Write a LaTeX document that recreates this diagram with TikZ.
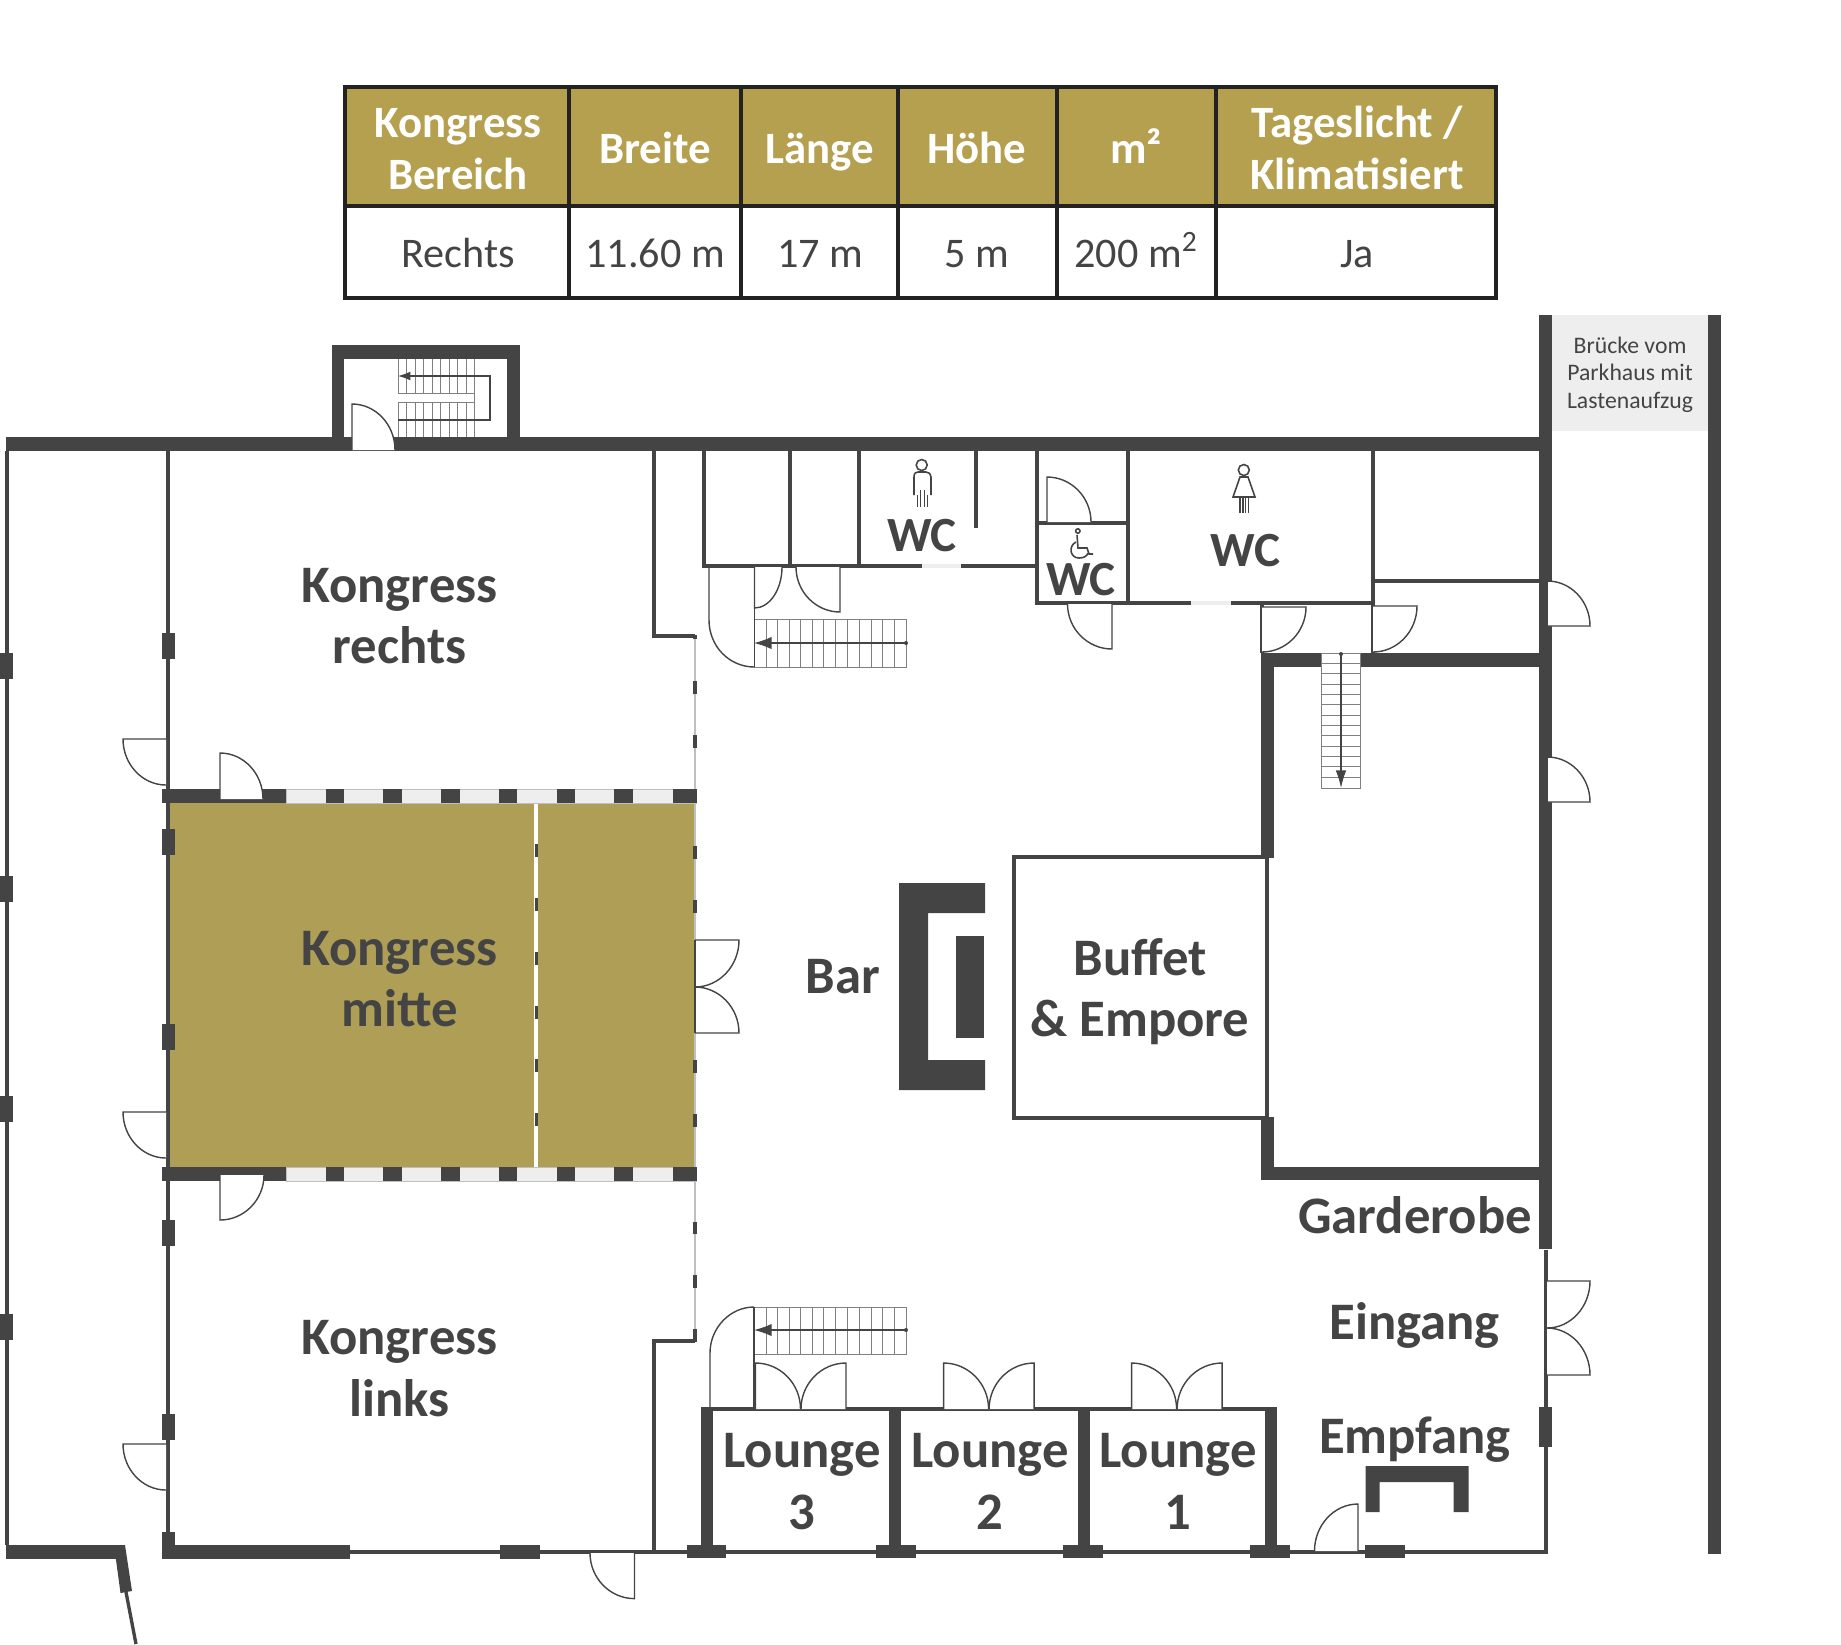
\documentclass[tikz,border=0pt]{standalone}
\usepackage{fontspec}
\setmainfont{Carlito}
\usetikzlibrary{arrows.meta}
\definecolor{wallColor}{HTML}{444444}
\definecolor{headColor}{HTML}{B5A04F}
\definecolor{roomColor}{HTML}{AE9E56}
\definecolor{sillColor}{HTML}{EEEEEE}
\definecolor{rimColor}{HTML}{222222}
\tikzset{
	wall/.style={fill=wallColor},
	thinwall/.style={draw=wallColor,line width=1.9pt},
	doorline/.style={draw=wallColor,line width=.8pt},
	stairline/.style={draw=gray,line width=.5pt},
	iconline/.style={draw=wallColor,line width=.9pt},
	roomlabel/.style={text=wallColor,font=\fontsize{30}{34.9}\selectfont\bfseries,align=center,anchor=base,inner sep=0pt},
	wclabel/.style={roomlabel,font=\fontsize{28}{34.9}\selectfont\bfseries},
	headlabel/.style={text=white,font=\fontsize{25.5}{29.5}\selectfont\bfseries,align=center,anchor=base,inner sep=0pt},
	celllabel/.style={text=wallColor,font=\fontsize{24}{30}\selectfont,anchor=base,inner sep=0pt},
	bridgelabel/.style={text=wallColor,font=\fontsize{13.5}{15.4}\selectfont,align=center,anchor=base,inner sep=0pt}
}
% hinge, tip of the leaf, end of the swing
\newcommand{\swingdoor}[6]{
	\fill[white] (#1,#2) -- (#3,#4) .. controls ({(#3)+.55*((#5)-(#1))},{(#4)+.55*((#6)-(#2))}) and ({(#5)+.55*((#3)-(#1))},{(#6)+.55*((#4)-(#2))}) .. (#5,#6) -- cycle;
	\draw[doorline] (#1,#2) -- (#3,#4) .. controls ({(#3)+.55*((#5)-(#1))},{(#4)+.55*((#6)-(#2))}) and ({(#5)+.55*((#3)-(#1))},{(#6)+.55*((#4)-(#2))}) .. (#5,#6);
}
\begin{document}
\begin{tikzpicture}[x=.02cm,y=-.02cm]
	\useasboundingbox (0,0) rectangle (1841,1644);
	% table
	\fill[headColor] (343,85) rectangle (1498,206);
	\draw[rimColor,line width=2.3pt] (345,87) rectangle (1496,298);
	\draw[rimColor,line width=2.3pt] (345,206) -- (1496,206);
	\foreach \tx in {569,741,898,1057,1216}
		\draw[rimColor,line width=1.8pt] (\tx,87) -- (\tx,298);
	\node[headlabel] (headarea) at (458,189.5) {Kongress\\Bereich};
	\node[headlabel] (headwidth) at (655,163.5) {Breite};
	\node[headlabel] (headlength) at (820,163.5) {Länge};
	\node[headlabel] (headheight) at (977,163.5) {Höhe};
	\node[headlabel] (headsize) at (1136,163.5) {m²};
	\node[headlabel] (headlight) at (1357,189.5) {Tageslicht /\\Klimatisiert};
	\node[celllabel] (cellarea) at (458,267.5) {Rechts};
	\node[celllabel] (cellwidth) at (655,267.5) {11.60 m};
	\node[celllabel] (celllength) at (820,267.5) {17 m};
	\node[celllabel] (cellheight) at (977,267.5) {5 m};
	\node[celllabel] (cellsize) at (1136,267.5) {200 m\textsuperscript{2}};
	\node[celllabel] (celllight) at (1357,267.5) {Ja};
	% bridge
	\fill[sillColor] (1552,315) rectangle (1708,431);
	\node[bridgelabel] (bridge) at (1630,408) {Brücke vom\\Parkhaus mit\\Lastenaufzug};
	% congress room
	\fill[roomColor] (168,803) rectangle (695,1167);
	\draw[white,line width=2.4pt] (536,803) -- (536,1167);
	\foreach \ty in {844,898,952,1006,1059,1113}
		\fill[wall] (534.5,\ty) rectangle (537.5,\ty+12.5);
	% glass front
	\draw[gray!50,line width=1.2pt] (695,639) -- (695,1329);
	\foreach \ty in {681,735,846,900,1060,1114,1221.5,1275}
		\fill[wall] (693,\ty) rectangle (697,\ty+12.5);
	\fill[wall] (693,635) rectangle (697,639);
	\fill[wall] (693,1329) rectangle (697,1342);
	% thin walls
	\draw[thinwall] (7,451) -- (7,1545);
	\draw[thinwall] (168,451) -- (168,1552) -- (654,1552);
	\draw[thinwall] (654,451) -- (654,636) -- (695,636);
	\draw[thinwall] (654,1552) -- (654,1341) -- (695,1341);
	\draw[thinwall] (654,1552) -- (1546,1552) -- (1546,1250);
	\draw[thinwall] (704,451) -- (704,566) -- (1037,566);
	\draw[thinwall] (790,451) -- (790,566);
	\draw[thinwall] (859,451) -- (859,566);
	\draw[thinwall] (976,451) -- (976,528);
	\draw[thinwall] (1037,451) -- (1037,603) -- (1373,603) -- (1373,451);
	\draw[thinwall] (1128,451) -- (1128,603);
	\draw[thinwall] (1037,523) -- (1128,523);
	\draw[thinwall] (1373,603) -- (1373,653);
	\draw[thinwall] (1262,603) -- (1262,653);
	\draw[thinwall] (1373,581) -- (1540,581);
	\draw[thinwall] (1014,857) rectangle (1267,1118);
	\fill[sillColor] (922,564) rectangle (961,568);
	\fill[sillColor] (1191,601) rectangle (1231,605);
	% thick walls
	\fill[wall] (5.5,437) rectangle (1539,451);
	\fill[wall] (332,345) rectangle (520,437);
	\fill[white] (344,359) rectangle (507,437);
	\fill[wall] (1539,315) rectangle (1552,1249);
	\fill[wall] (1708,315) rectangle (1721,1554);
	\fill[wall] (1261,653) rectangle (1539,667);
	\fill[wall] (1261,653) rectangle (1274,858);
	\fill[wall] (1261,1117) rectangle (1274,1180);
	\fill[wall] (1261,1167) rectangle (1539,1180);
	\fill[wall] (5.5,1545) rectangle (125,1559);
	\fill[wall] (114,1545) -- (125,1545) -- (132,1591) -- (120.5,1593) -- cycle;
	\draw[thinwall] (126,1592) -- (136,1644);
	\fill[wall] (162,1532) rectangle (175,1559);
	\fill[wall] (162,1545) rectangle (350,1559);
	\fill[wall] (500,1545) rectangle (539.5,1559);
	% columns
	\foreach \ty in {633,829,1024,1220,1413.5}
		\fill[wall] (162,\ty) rectangle (175,\ty+26);
	\foreach \ty in {653,876,1096,1314}
		\fill[wall] (0,\ty) rectangle (13,\ty+26);
	\fill[wall] (1539,1407) rectangle (1551.5,1447);
	% partition rows
	\foreach \ty in {789,1167} {
		\fill[sillColor] (286,\ty) rectangle (696,\ty+14);
		\draw[gray!50,line width=.4pt] (286,\ty) rectangle (696,\ty+14);
		\fill[wall] (162,\ty) rectangle (286,\ty+14);
		\foreach \tx in {325.5,383.2,441,498.7,556.5,614.2}
			\fill[wall] (\tx,\ty) rectangle (\tx+18.6,\ty+14);
		\fill[wall] (672.6,\ty) rectangle (697,\ty+14);
	}
	% lounges
	\draw[wallColor,line width=2.3pt] (701,1408.5) -- (1277,1408.5);
	\foreach \tx in {700.7,889,1077.6,1265}
		\fill[wall] (\tx,1407) rectangle (\tx+12,1550);
	\foreach \tx in {686.7,876,1063,1250,1365}
		\fill[wall] (\tx,1545) rectangle (\tx+39.5,1558);
	% bar and reception
	\fill[wall] (899,883) -- (985,883) -- (985,913) -- (928,913) -- (928,1060) -- (985,1060) -- (985,1090) -- (899,1090) -- cycle;
	\fill[wall] (955.5,936) rectangle (984,1038);
	\fill[wall] (1365.6,1512) -- (1365.6,1466) -- (1468.6,1466) -- (1468.6,1512) -- (1453.7,1512) -- (1453.7,1482) -- (1379.7,1482) -- (1379.7,1512) -- cycle;
	% stairs
	\foreach \tx in {398,406.5,415,423.5,432,440.5,449,457.5,466,474} {
		\draw[stairline] (\tx,359) -- (\tx,393);
		\draw[stairline] (\tx,402) -- (\tx,437);
	}
	\draw[stairline] (398,359) -- (398,393) -- (474,393) -- (474,402) -- (398,402);
	\draw[wallColor,line width=.6pt,-{Latex[length=7pt,width=5pt]}] (398,420) -- (490,420) -- (490,376) -- (398,376);
	\fill[white] (754,619) rectangle (906,667);
	\draw[stairline] (754,619) rectangle (906,667);
	\foreach \tx in {766,777.5,789,800.5,812,823.5,835,847,859,871,882.5,894}
		\draw[stairline] (\tx,619) -- (\tx,667);
	\draw[wallColor,line width=.7pt,-{Latex[length=10pt,width=7pt]}] (906,643) -- (754,643);
	\fill[wallColor] (906,643) circle (2);
	\fill[white] (754,1307) rectangle (906,1354);
	\draw[stairline] (754,1307) rectangle (906,1354);
	\foreach \tx in {766,777.5,789,800.5,812,823.5,835,847,859,871,882.5,894}
		\draw[stairline] (\tx,1307) -- (\tx,1354);
	\draw[wallColor,line width=.7pt,-{Latex[length=10pt,width=7pt]}] (906,1330) -- (754,1330);
	\fill[wallColor] (906,1330) circle (2);
	\fill[white] (1321.6,653) rectangle (1360.8,788);
	\draw[stairline] (1321.6,653) rectangle (1360.8,788);
	\foreach \ty in {663.3,673.6,684,694.3,704.6,715,725.3,735.6,746,756.3,766.6,777}
		\draw[stairline] (1321.6,\ty) -- (1360.8,\ty);
	\draw[wallColor,line width=.7pt,-{Latex[length=10pt,width=6pt]}] (1341,654) -- (1341,788);
	\fill[wallColor] (1341,654) circle (2);
	% doors
	\swingdoor{352}{450}{352}{404}{395}{450}
	\swingdoor{166}{739}{123}{739}{166}{785}
	\swingdoor{220}{799}{220}{753}{263}{799}
	\swingdoor{166}{1112}{123}{1112}{166}{1158}
	\swingdoor{220}{1175}{220}{1220}{264}{1175}
	\swingdoor{166}{1444}{123}{1444}{166}{1490}
	\swingdoor{634.5}{1553}{634.5}{1598.6}{590}{1553}
	\swingdoor{695}{940}{739}{940}{695}{987}
	\swingdoor{695}{1033}{739}{1033}{695}{987}
	\draw[doorline] (695,940) -- (695,1033);
	\draw[doorline] (709,567) -- (709,620) .. controls (709,646) and (729,667) .. (754.5,667);
	\draw[doorline] (754.5,567) -- (754.5,667);
	\swingdoor{754.5}{567}{754.5}{608}{782}{567}
	\swingdoor{840}{567}{840}{612}{796}{567}
	\swingdoor{1047}{522}{1047}{477}{1091}{522}
	\swingdoor{1112}{604}{1112}{649}{1067.5}{604}
	\swingdoor{1262}{607}{1306}{607}{1262}{652}
	\swingdoor{1373}{606}{1417}{606}{1373}{652}
	\swingdoor{1547.5}{626}{1590}{626}{1547.5}{581}
	\draw[doorline] (1547.5,581) -- (1547.5,626);
	\swingdoor{1547.5}{802}{1590}{802}{1547.5}{757}
	\draw[doorline] (1547.5,757) -- (1547.5,802);
	\swingdoor{1547}{1281}{1590}{1281}{1547}{1328}
	\swingdoor{1547}{1375}{1590}{1375}{1547}{1328}
	\swingdoor{1358}{1551}{1358}{1504}{1314.5}{1551}
	\draw[doorline] (710,1407) -- (710,1353) .. controls (710,1328) and (730,1307) .. (754,1307);
	\draw[doorline] (754,1307) -- (754,1407);
	\foreach \tx in {755.5,943.6,1131.6} {
		\swingdoor{\tx}{1409}{\tx}{1363}{\tx+45}{1409}
		\swingdoor{\tx+90.5}{1409}{\tx+90.5}{1363}{\tx+45.5}{1409}
	}
	% wc signs
	\draw[iconline] (921.7,465) circle (5.5);
	\draw[iconline] (914,495) -- (914,477) .. controls (914,473) and (916,472) .. (918,472) -- (926,472) .. controls (929,472) and (931,474) .. (931,477) -- (931,495);
	\draw[iconline] (917.5,495) -- (917.5,507) (920.5,490) -- (920.5,507) (924.5,490) -- (924.5,507) (927.5,495) -- (927.5,507);
	\draw[iconline] (1243.8,470) circle (5.5);
	\draw[iconline] (1240,477) -- (1233,497) -- (1255,497) -- (1248,477) -- cycle;
	\draw[iconline] (1240,497) -- (1240,513) (1243,497) -- (1243,513) (1245.5,497) -- (1245.5,513) (1248.5,497) -- (1248.5,513);
	\draw[iconline] (1077.8,531) circle (2.2);
	\draw[iconline] (1077,535) -- (1078,548) -- (1087,548) -- (1089,554) -- (1093,554);
	\draw[iconline] (1076,542) .. controls (1068,546) and (1070,558) .. (1079,558) .. controls (1084,558) and (1087,556) .. (1088,553);
	% labels
	\node[roomlabel] (rechts) at (399.5,663.5) {Kongress\\rechts};
	\node[roomlabel] (mitte) at (399.5,1026.5) {Kongress\\mitte};
	\node[roomlabel] (links) at (399.5,1416) {Kongress\\links};
	\node[roomlabel] (bar) at (843,993) {Bar};
	\node[roomlabel] (buffet) at (1140,1036.5) {Buffet\\\& Empore};
	\node[roomlabel] (garderobe) at (1415,1233.5) {Garderobe};
	\node[roomlabel] (eingang) at (1414.5,1339) {Eingang};
	\node[roomlabel] (empfang) at (1415,1453) {Empfang};
	\node[roomlabel] (lounge3) at (802,1529) {Lounge\\3};
	\node[roomlabel] (lounge2) at (990,1529) {Lounge\\2};
	\node[roomlabel] (lounge1) at (1178,1529) {Lounge\\1};
	\node[wclabel] (wcmen) at (922,551) {WC};
	\node[wclabel] (wcaccess) at (1081,595) {WC};
	\node[wclabel] (wcwomen) at (1245,566) {WC};
\end{tikzpicture}
\end{document}
